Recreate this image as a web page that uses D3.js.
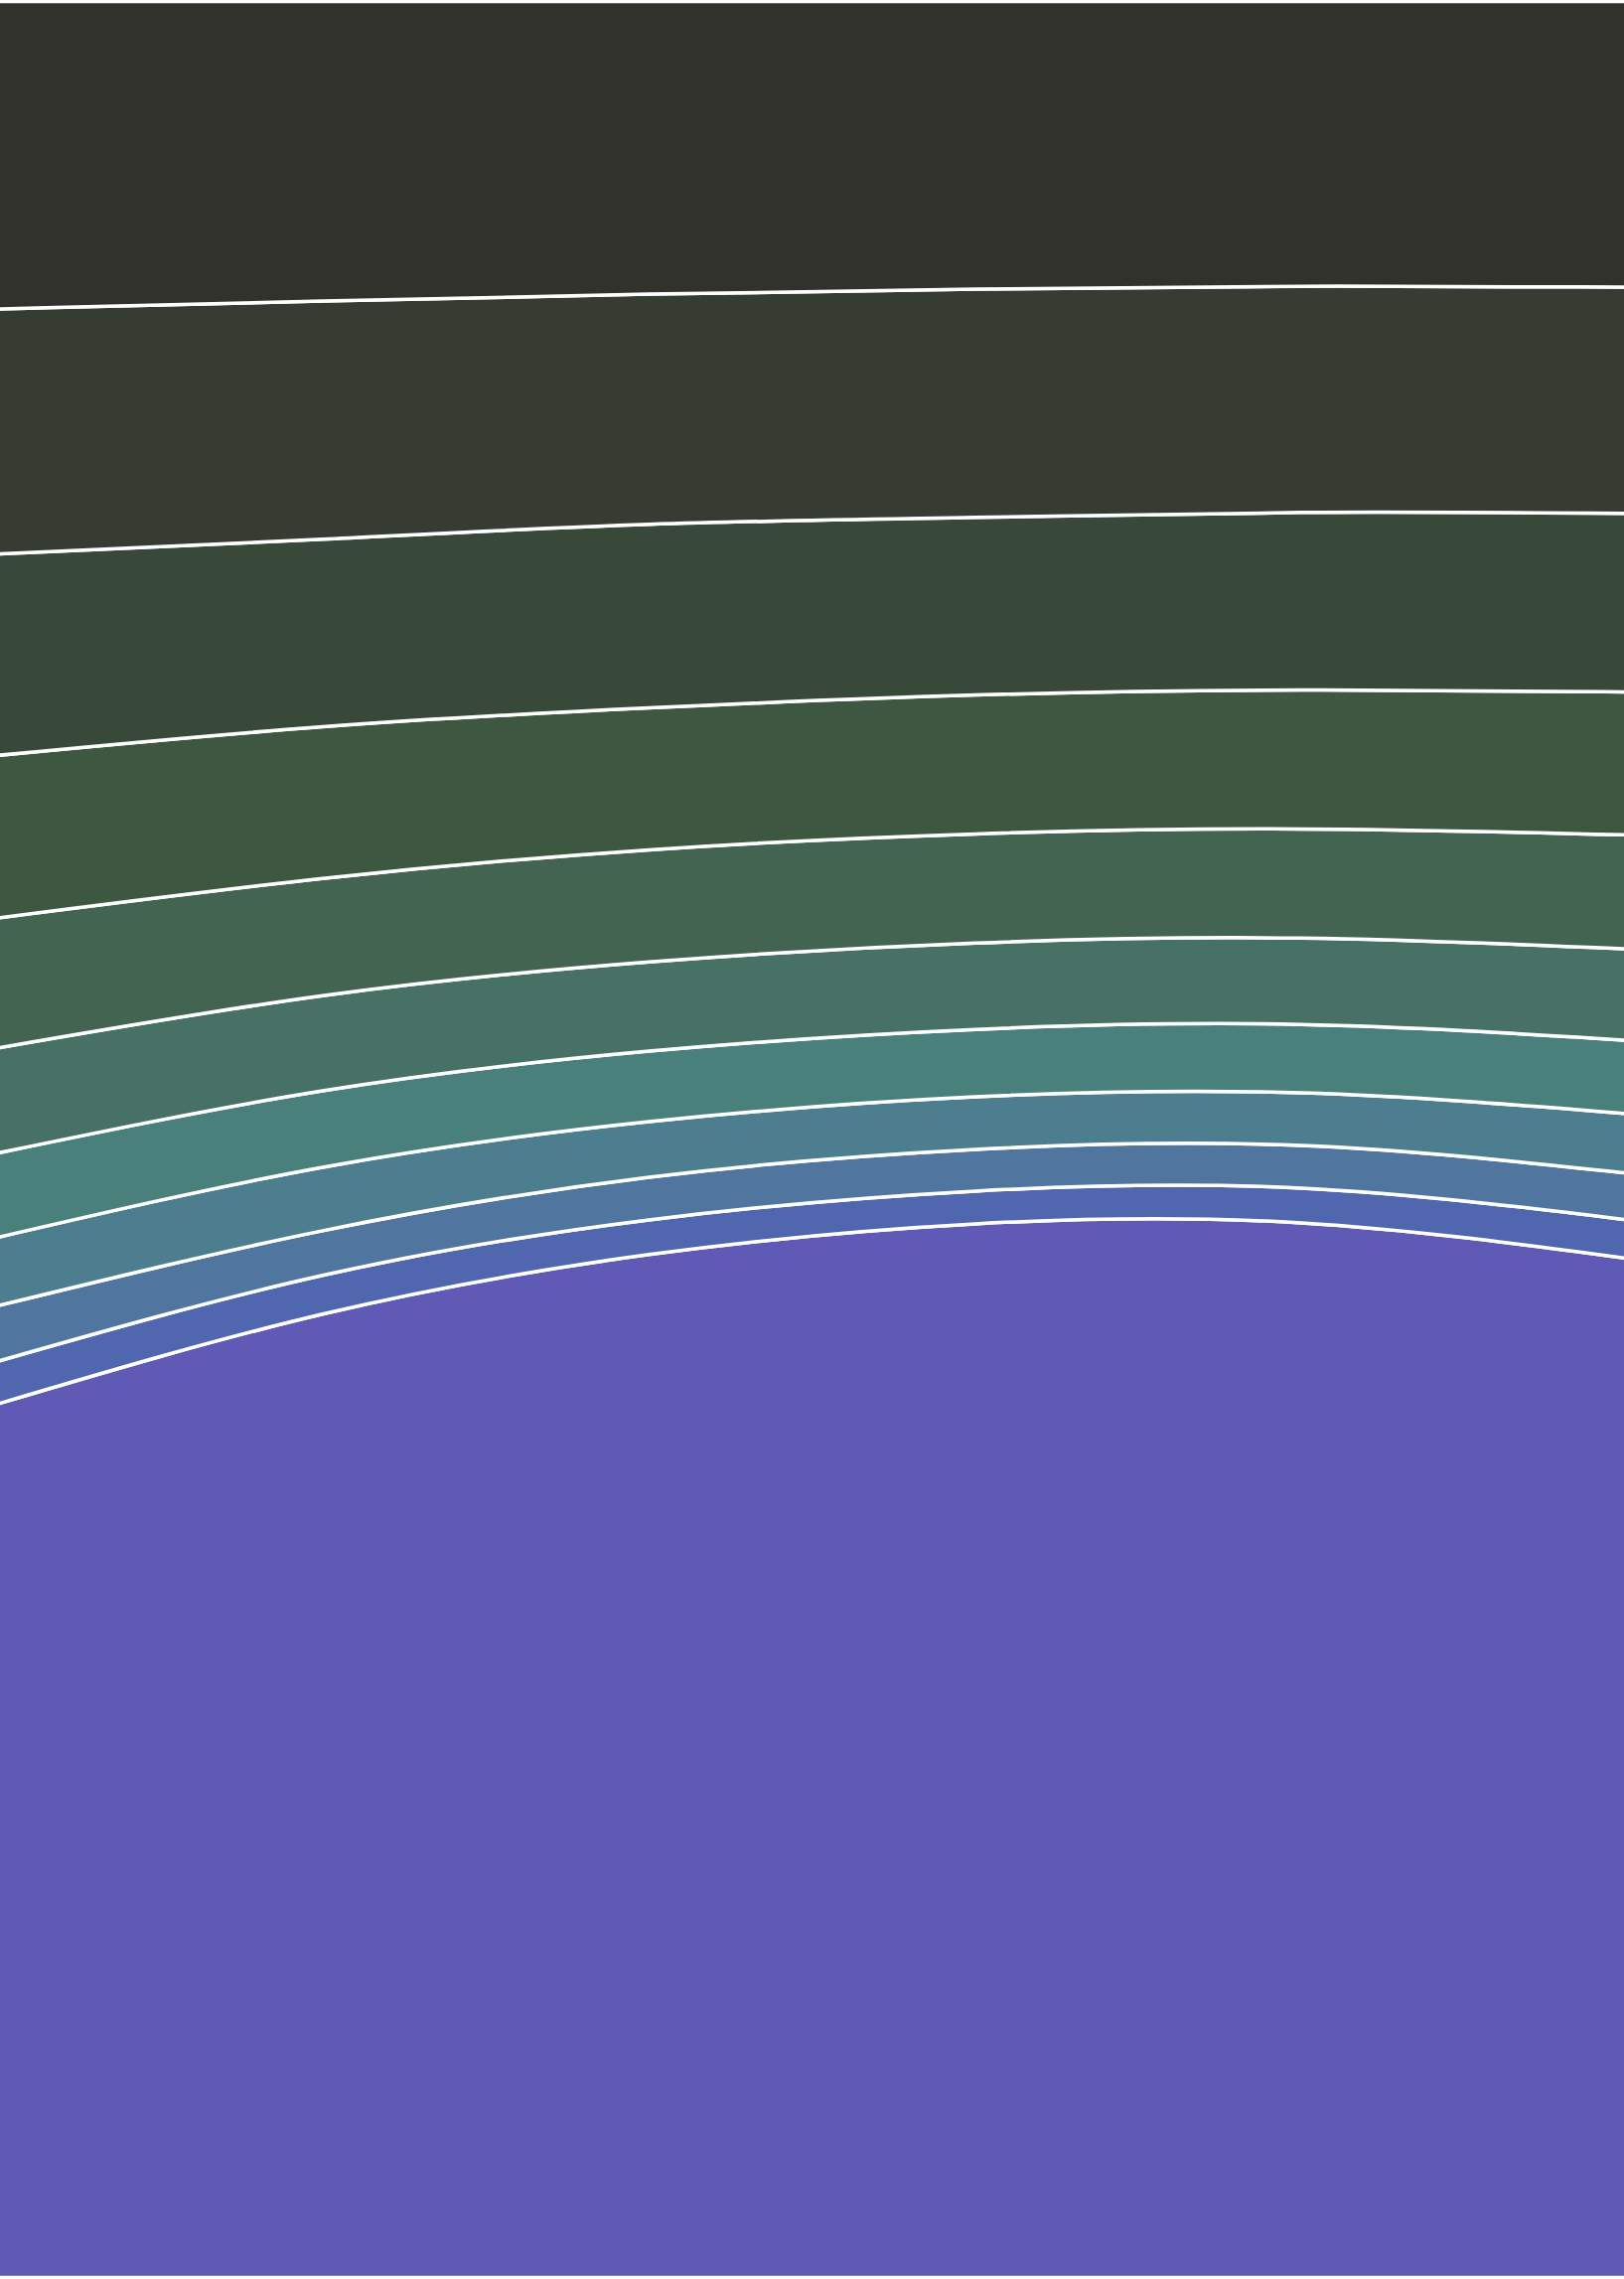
<!DOCTYPE html>
<html>
<head>
<meta charset="utf-8">
<script src="https://cdn.jsdelivr.net/npm/d3@7"></script>
<style>
  html, body { margin: 0; padding: 0; background: #ffffff; overflow: hidden; }
  svg { display: block; }
</style>
</head>
<body>
<div class="js-chart"></div>
<script>
// sample positions along the horizontal axis
const steps = [0, 1, 2, 3, 4, 5];

// layer names, bottom layer first
const layers = ['k', 'j', 'i', 'h', 'g', 'f', 'e', 'd', 'c', 'b', 'a'];

// values of each layer at each step (bottom layer first)
const valuesK = [880, 971, 1031, 1062, 1063, 1027];
const valuesJ = [43, 39, 35, 33, 35, 39];
const valuesI = [56, 45, 43, 42, 43, 47];
const valuesH = [69, 64, 56, 53, 53, 60];
const valuesG = [85, 77, 71, 68, 69, 74];
const valuesF = [106, 96, 90, 87, 87, 92];
const valuesE = [131, 118, 113, 110, 110, 115];
const valuesD = [164, 153, 143, 140, 140, 144];
const valuesC = [203, 189, 185, 179, 179, 180];
const valuesB = [247, 240, 232, 230, 228, 228];
const valuesA = [310, 302, 295, 290, 287, 288];

const colors = ['#605ab7', '#5066af', '#50769f', '#4d7e90', '#4a807c', '#467164', '#426450', '#3d5741', '#384939', '#363c32', '#31322c'];

document.addEventListener('DOMContentLoaded', function () {
  drawChart();
});

const drawChart = function () {
  const width = 1635;
  const height = 2294;

  const series = [valuesK, valuesJ, valuesI, valuesH, valuesG, valuesF, valuesE, valuesD, valuesC, valuesB, valuesA];

  let table = [];
  for (let i = 0; i < steps.length; i++) {
    let row = { step: steps[i] };
    for (let j = 0; j < layers.length; j++) {
      row[layers[j]] = series[j][i];
    }
    table.push(row);
  }

  const stack = d3.stack().keys(layers).offset(d3.stackOffsetExpand);
  const stacked = stack(table);

  // a few pixels past the sides so the outline does not show there
  const x = d3.scaleLinear().domain(d3.extent(steps)).range([-4, width + 4]);
  const y = d3.scaleLinear().domain([0, 1]).range([height - 1.5, 1.5]);
  const color = d3.scaleOrdinal().domain(layers).range(colors);

  const area = d3
    .area()
    .x((d) => x(d.data.step))
    .y0((d) => y(d[0]))
    .y1((d) => y(d[1]))
    .curve(d3.curveNatural);

  const svg = d3.select('.js-chart').append('svg').attr('width', width).attr('height', height);

  svg
    .selectAll('path')
    .data(stacked)
    .join('path')
    .attr('d', area)
    .attr('fill', (d) => color(d.key))
    .attr('stroke', '#ffffff')
    .attr('stroke-width', 3.5);
};
</script>
</body>
</html>
